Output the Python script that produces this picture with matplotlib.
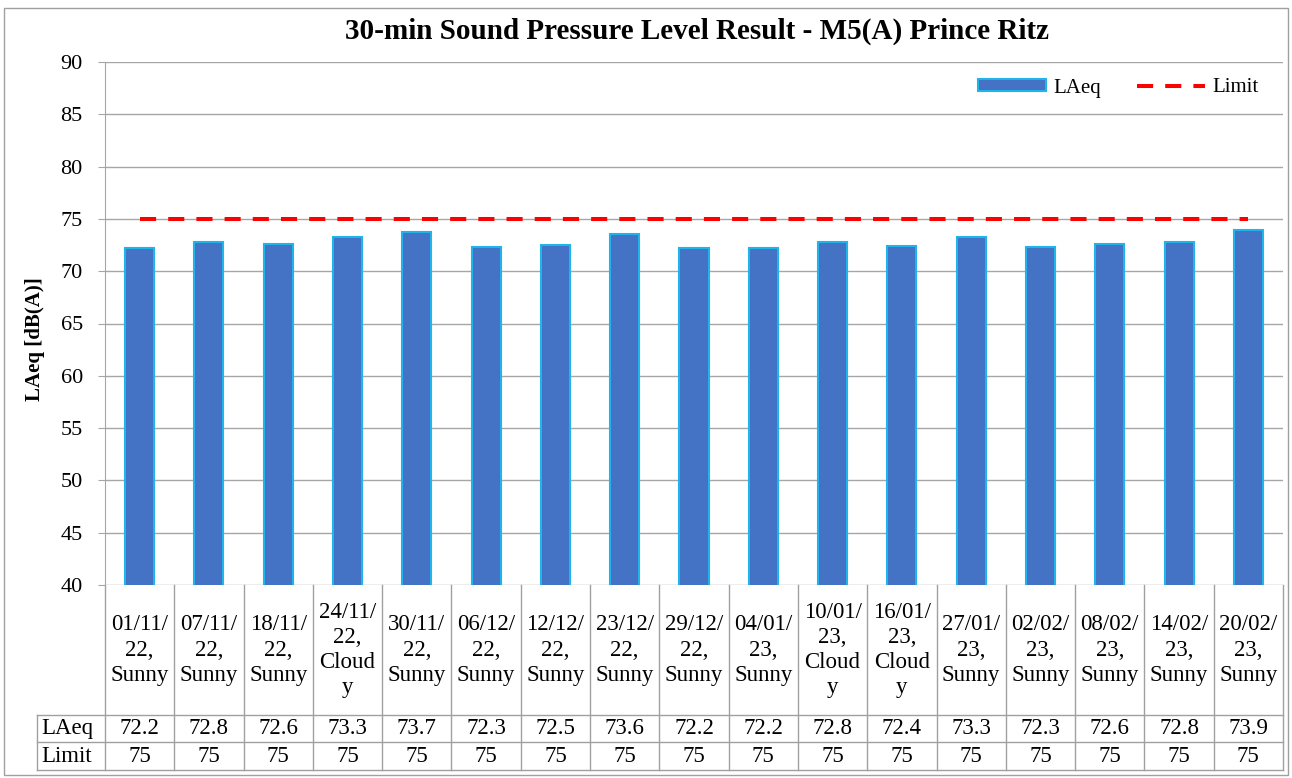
import matplotlib
matplotlib.use("Agg")
import matplotlib.pyplot as plt
import matplotlib.transforms as mtransforms
from matplotlib.patches import Rectangle, Patch
from matplotlib.lines import Line2D

plt.rcParams['font.family'] = ['Liberation Serif', 'DejaVu Serif']

# data
dates = ["01/11/22", "07/11/22", "18/11/22", "24/11/22", "30/11/22", "06/12/22",
         "12/12/22", "23/12/22", "29/12/22", "04/01/23", "10/01/23", "16/01/23",
         "27/01/23", "02/02/23", "08/02/23", "14/02/23", "20/02/23"]
weather = ["Sunny", "Sunny", "Sunny", "Cloudy", "Sunny", "Sunny", "Sunny", "Sunny",
           "Sunny", "Sunny", "Cloudy", "Cloudy", "Sunny", "Sunny", "Sunny", "Sunny", "Sunny"]
laeq = [72.2, 72.8, 72.6, 73.3, 73.7, 72.3, 72.5, 73.6, 72.2, 72.2, 72.8, 72.4,
        73.3, 72.3, 72.6, 72.8, 73.9]
limit = [75] * 17
yticks = [40, 45, 50, 55, 60, 65, 70, 75, 80, 85, 90]


def make_label(d, w):
    # excel wraps the text in narrow cells
    parts = [d[:6], d[6:] + ","]
    if len(w) > 5:
        parts += [w[:5], w[5:]]
    else:
        parts.append(w)
    return "\n".join(parts)


labels = [make_label(d, w) for d, w in zip(dates, weather)]
x = list(range(len(laeq)))

W, H = 1292, 778
L, R, T, B = 105, 1283, 62, 585
fig = plt.figure(figsize=(W / 100, H / 100), dpi=100)
ax = fig.add_axes([L / W, 1 - B / H, (R - L) / W, (B - T) / H])

grid_c = "#a6a6a6"
fs_tab = 16.5
ax.set_ylim(40, 90)
ax.set_xlim(-0.5, len(x) - 0.5)
ax.set_yticks(yticks)
ax.yaxis.grid(True, color=grid_c, lw=1)
ax.set_axisbelow(True)
ax.tick_params(axis='y', length=5, color=grid_c, labelsize=16, pad=11)
ax.set_xticks([])
for s in ["top", "right", "bottom"]:
    ax.spines[s].set_visible(False)
ax.spines["left"].set_color(grid_c)

ax.bar(x, laeq, width=0.42, color="#4472C4", edgecolor="#1FB4EA", lw=1.5, zorder=2)
ax.plot(x, limit, color="#FF0000", lw=2.9, dashes=(4, 3), zorder=3)

fig.text(35 / W, 1 - 339 / H, "LAeq [dB(A)]", rotation=90, ha="center", va="center",
         fontsize=15, fontweight="bold")
fig.text(697 / W, 1 - 31 / H, "30-min Sound Pressure Level Result - M5(A) Prince Ritz",
         ha="center", va="center", fontsize=21, fontweight="bold")

handles = [Patch(facecolor="#4472C4", edgecolor="#1FB4EA", lw=1.5),
           Line2D([], [], color="#FF0000", lw=2.9, dashes=(4, 3))]
fig.legend(handles, ["LAeq", "Limit"], loc="center right", ncol=2, frameon=False,
           fontsize=15, bbox_to_anchor=(1259 / W, 1 - 88 / H),
           bbox_transform=fig.transFigure, borderaxespad=0, borderpad=0,
           handlelength=3.3, handleheight=0.55, columnspacing=1.7, handletextpad=0.35)

# data table under the axis
tr = mtransforms.blended_transform_factory(ax.transData, ax.transAxes)
ph = float(B - T)
colw = (R - L) / len(x)
y_cat = -(715 - B) / ph
y_r1 = -(742 - B) / ph
y_r2 = -(770 - B) / ph
x_left = -0.5 - (L - 37) / colw
tc = "#a0a0a0"
kw = dict(transform=tr, clip_on=False, color=tc, lw=1)
ax.plot([x_left, len(x) - 0.5], [y_cat, y_cat], **kw)
ax.plot([x_left, len(x) - 0.5], [y_r1, y_r1], **kw)
ax.plot([x_left, len(x) - 0.5], [y_r2, y_r2], **kw)
ax.plot([x_left, x_left], [y_cat, y_r2], **kw)
for i in range(len(x) + 1):
    ax.plot([i - 0.5, i - 0.5], [0, y_r2], **kw)

for i, lab in enumerate(labels):
    ax.text(i, y_cat / 2, lab, transform=tr, ha="center", va="center",
            fontsize=fs_tab, linespacing=1.25)
    ax.text(i, (y_cat + y_r1) / 2, f"{laeq[i]:.1f}", transform=tr,
            ha="center", va="center", fontsize=fs_tab)
    ax.text(i, (y_r1 + y_r2) / 2, f"{limit[i]}", transform=tr,
            ha="center", va="center", fontsize=fs_tab)
ax.text(x_left + 4 / colw, (y_cat + y_r1) / 2, "LAeq", transform=tr, ha="left",
        va="center", fontsize=fs_tab)
ax.text(x_left + 4 / colw, (y_r1 + y_r2) / 2, "Limit", transform=tr, ha="left",
        va="center", fontsize=fs_tab)

# outer chart border
fig.patches.append(Rectangle((4 / W, 1 - 775 / H), (1288 - 4) / W, (775 - 8) / H,
                             transform=fig.transFigure, fill=False,
                             edgecolor="#a0a0a0", lw=1))

fig.savefig("out.png", dpi=100)
